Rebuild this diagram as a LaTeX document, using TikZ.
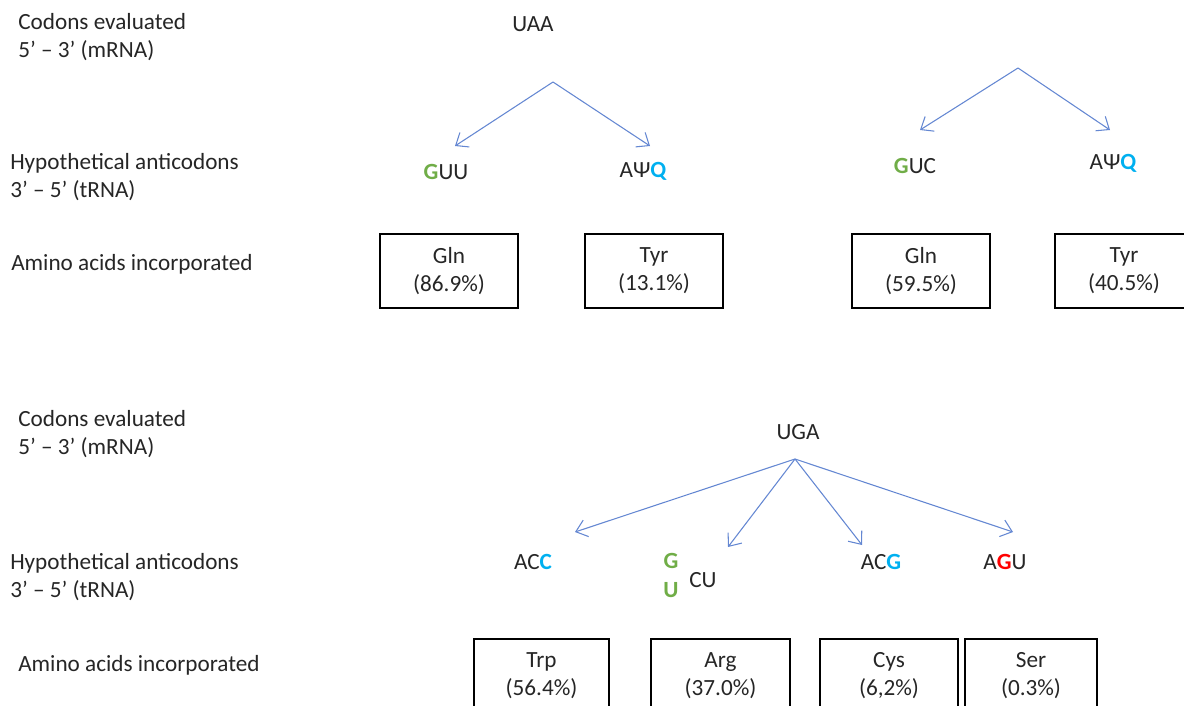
\documentclass[tikz,border=0pt]{standalone}
\usepackage{fontspec}
\setmainfont{Carlito}
\usetikzlibrary{arrows.meta}
\definecolor{txt}{RGB}{38,38,38}
\definecolor{cgreen}{RGB}{112,173,71}
\definecolor{cblue}{RGB}{0,176,240}
\definecolor{cred}{RGB}{255,0,0}
\definecolor{carrow}{RGB}{100,135,210}
\tikzset{
  lbl/.style={anchor=west, align=left, inner sep=0pt, text=txt, font=\fontsize{17.4}{21}\selectfont},
  cod/.style={inner sep=0pt, text=txt, font=\fontsize{17.4}{21}\selectfont},
  aa/.style={draw=black, line width=1.3pt, minimum width=103pt, minimum height=55pt, align=center, text=txt, font=\fontsize{17.4}{21}\selectfont},
  arr/.style={draw=carrow, line width=0.8pt, -{Straight Barb[length=8pt,width=13pt,line width=0.8pt]}}
}
\newcommand{\gb}[1]{{\bfseries\color{cgreen}#1}}
\newcommand{\bb}[1]{{\bfseries\color{cblue}#1}}
\newcommand{\rb}[1]{{\bfseries\color{cred}#1}}
\begin{document}
\begin{tikzpicture}[x=0.75pt,y=-0.75pt]
\useasboundingbox (0,0) rectangle (1184,706);
\clip (0,0) rectangle (1184,706);
% ---- top section ----
\node[lbl] (l1a) at (18,37) {Codons evaluated\\5’ – 3’ (mRNA)};
\node[lbl] (l1b) at (10,177) {Hypothetical anticodons\\3’ – 5’ (tRNA)};
\node[lbl] (l1c) at (11,264) {Amino acids incorporated};

\node[cod] (uaa) at (533,24) {UAA};
\coordinate (a1) at (553,82);
\coordinate (t1) at (455,146);
\coordinate (t2) at (650,146);
\draw[arr] (a1) -- (t1);
\draw[arr] (a1) -- (t2);
\node[cod] (guu) at (446,172) {\gb{G}UU};
\node[cod] (apq1) at (643,171) {AΨ\bb{Q}};

\coordinate (a2) at (1018,68);
\coordinate (t3) at (920,130);
\coordinate (t4) at (1110,130);
\draw[arr] (a2) -- (t3);
\draw[arr] (a2) -- (t4);
\node[cod] (guc) at (915,166) {\gb{G}UC};
\node[cod] (apq2) at (1113,163) {AΨ\bb{Q}};

\node[aa] (gln1) at (449,271) {Gln\\(86.9\%)};
\node[aa] (tyr1) at (654,271) {Tyr\\(13.1\%)};
\node[aa] (gln2) at (921,271) {Gln\\(59.5\%)};
\node[aa] (tyr2) at (1124,271) {Tyr\\(40.5\%)};

% ---- bottom section ----
\node[lbl] (l2a) at (18,434) {Codons evaluated\\5’ – 3’ (mRNA)};
\node[lbl] (l2b) at (10,577) {Hypothetical anticodons\\3’ – 5’ (tRNA)};
\node[lbl] (l2c) at (18,665) {Amino acids incorporated};

\node[cod] (uga) at (798,432) {UGA};
\coordinate (a3) at (795,459);
\coordinate (t5) at (575,532);
\coordinate (t6) at (728,547);
\coordinate (t7) at (862,545);
\coordinate (t8) at (1013,532);
\draw[arr] (a3) -- (t5);
\draw[arr] (a3) -- (t6);
\draw[arr] (a3) -- (t7);
\draw[arr] (a3) -- (t8);

\node[cod] (acc) at (533,562) {AC\bb{C}};
\node[cod] (g1) at (671,561) {\gb{G}};
\node[cod] (u1) at (671,590) {\gb{U}};
\node[cod] (cu) at (703,580) {CU};
\node[cod] (acg) at (881,562) {AC\bb{G}};
\node[cod] (agu) at (1005,562) {A\rb{G}U};

\node[aa, minimum width=101pt] (trp) at (541.5,676) {Trp\\(56.4\%)};
\node[aa, minimum width=104pt] (arg) at (720.5,676) {Arg\\(37.0\%)};
\node[aa] (cys) at (889,676) {Cys\\(6,2\%)};
\node[aa, minimum width=99pt] (ser) at (1031,676) {Ser\\(0.3\%)};
\end{tikzpicture}
\end{document}
